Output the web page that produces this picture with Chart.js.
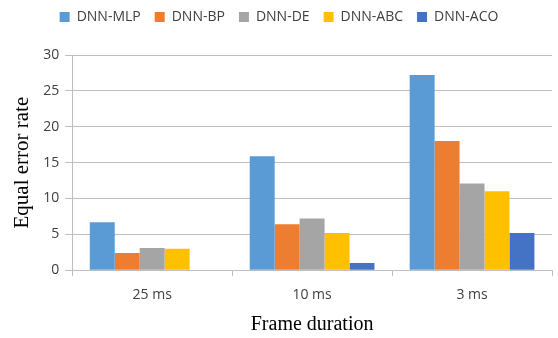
<!DOCTYPE html>
<html>
<head>
<meta charset="utf-8">
<script src="https://cdn.jsdelivr.net/npm/chart.js@4"></script>
<style>
  html, body { margin: 0; padding: 0; background: #fff; }
  #wrap { width: 558px; height: 338px; position: relative; }
</style>
</head>
<body>
<div id="wrap"><canvas id="chart"></canvas></div>
<script>
// Chart data
const categories = ['25 ms', '10 ms', '3 ms'];
const seriesNames = ['DNN-MLP', 'DNN-BP', 'DNN-DE', 'DNN-ABC', 'DNN-ACO'];
const mlp = [6.7, 15.9, 27.2];
const bp = [2.4, 6.4, 18.0];
const de = [3.1, 7.2, 12.1];
const abc = [3.0, 5.2, 11.0];
const aco = [0, 1.0, 5.2];
const colors = ['#5B9BD5', '#ED7D31', '#A5A5A5', '#FFC000', '#4472C4'];

const seriesValues = [mlp, bp, de, abc, aco];

// extra space under the legend
const legendGap = {
  id: 'legendGap',
  beforeInit(chart) {
    const fit = chart.legend.fit;
    chart.legend.fit = function () {
      fit.bind(chart.legend)();
      this.height += 21;
    };
  }
};

const ctx = document.getElementById('chart').getContext('2d');
new Chart(ctx, {
  type: 'bar',
  data: {
    labels: categories,
    datasets: seriesNames.map(function (name, i) {
      return {
        label: name,
        data: seriesValues[i],
        backgroundColor: colors[i],
        borderWidth: 0,
        barPercentage: 1.0,
        categoryPercentage: 0.78
      };
    })
  },
  options: {
    responsive: true,
    maintainAspectRatio: false,
    animation: false,
    layout: { padding: { top: -4, right: 6, bottom: -3, left: 6 } },
    plugins: {
      legend: {
        position: 'top',
        labels: {
          boxWidth: 10,
          boxHeight: 10,
          padding: 14,
          color: '#404040',
          font: { family: 'Open Sans', size: 14 }
        }
      },
      tooltip: { enabled: false }
    },
    scales: {
      x: {
        grid: {
          offset: true,
          drawOnChartArea: false,
          tickLength: 6,
          color: '#bfbfbf'
        },
        border: { color: '#bfbfbf' },
        ticks: { color: '#404040', font: { family: 'Open Sans', size: 14 }, padding: 10 },
        title: {
          display: true,
          text: 'Frame duration',
          color: '#000',
          font: { family: 'Liberation Serif', size: 20 },
          padding: { top: 0 }
        }
      },
      y: {
        min: 0,
        max: 30,
        ticks: { stepSize: 5, color: '#404040', font: { family: 'Open Sans', size: 14 }, padding: 6 },
        grid: { color: '#bfbfbf', tickLength: 7 },
        border: { color: '#bfbfbf' },
        title: {
          display: true,
          text: 'Equal error rate',
          color: '#000',
          font: { family: 'Liberation Serif', size: 21 },
          padding: { bottom: 2 }
        }
      }
    }
  },
  plugins: [legendGap]
});
</script>
</body>
</html>
